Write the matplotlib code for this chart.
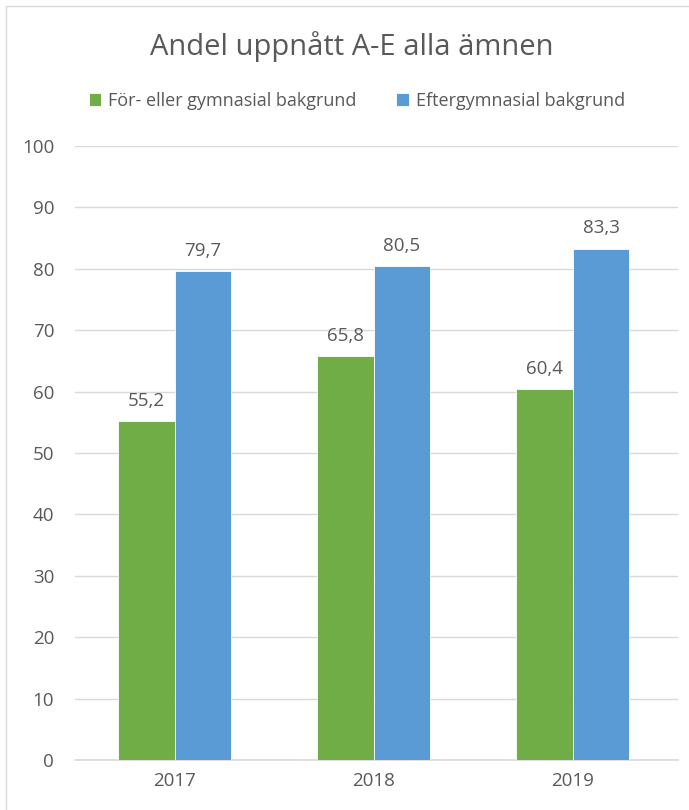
import matplotlib.pyplot as plt
import numpy as np
from matplotlib.patches import Rectangle

years = ['2017', '2018', '2019']
green_vals = [55.2, 65.8, 60.4]
blue_vals = [79.7, 80.5, 83.3]
labels = ['För- eller gymnasial bakgrund', 'Eftergymnasial bakgrund']

plt.rcParams['font.family'] = ['Open Sans', 'DejaVu Sans']
txt = '#595959'

W, H = 689, 810
fig = plt.figure(figsize=(W / 100, H / 100), dpi=100)
ax = fig.add_axes([75 / W, 1 - 760 / H, 603 / W, (760 - 146) / H])

x = np.arange(len(years))
w = 0.286
b1 = ax.bar(x - w / 2, green_vals, w, color='#70AD47', edgecolor='white', linewidth=0.6,
            label=labels[0], zorder=3)
b2 = ax.bar(x + w / 2, blue_vals, w, color='#5B9BD5', edgecolor='white', linewidth=0.6,
            label=labels[1], zorder=3)
for bars in (b1, b2):
    ax.bar_label(bars, labels=[f'{v:.1f}'.replace('.', ',') for v in bars.datavalues],
                 padding=8, fontsize=13.5, color=txt)

ax.set_xlim(-0.5, 2.53)
ax.set_ylim(0, 100)
ax.set_yticks(range(0, 101, 10))
ax.set_xticks(x)
ax.set_xticklabels(years)
ax.tick_params(axis='both', length=0, labelsize=13.5, colors=txt)
ax.tick_params(axis='y', pad=15)
ax.tick_params(axis='x', pad=9)
ax.grid(axis='y', color='#D9D9D9', linewidth=1, zorder=0)
for s in ['top', 'right', 'left']:
    ax.spines[s].set_visible(False)
ax.spines['bottom'].set_color('#D9D9D9')
ax.spines['bottom'].set_linewidth(1.2)

fig.text(352 / W, 1 - 47 / H, 'Andel uppnått A-E alla ämnen', ha='center', va='center',
         fontsize=21, color=txt)
fig.legend(handles=[b1, b2], loc='center', bbox_to_anchor=(357 / W, 1 - 101 / H), ncol=2,
           frameon=False, fontsize=13, labelcolor=txt, handlelength=0.7, handleheight=0.7,
           handletextpad=0.4, columnspacing=2.2)

fig.patches.append(Rectangle((6 / W, -0.1), 1.2, 1 - 6 / H + 0.1, transform=fig.transFigure,
                             fill=False, edgecolor='#D9D9D9', linewidth=1))

fig.savefig('out.png', dpi=100)
